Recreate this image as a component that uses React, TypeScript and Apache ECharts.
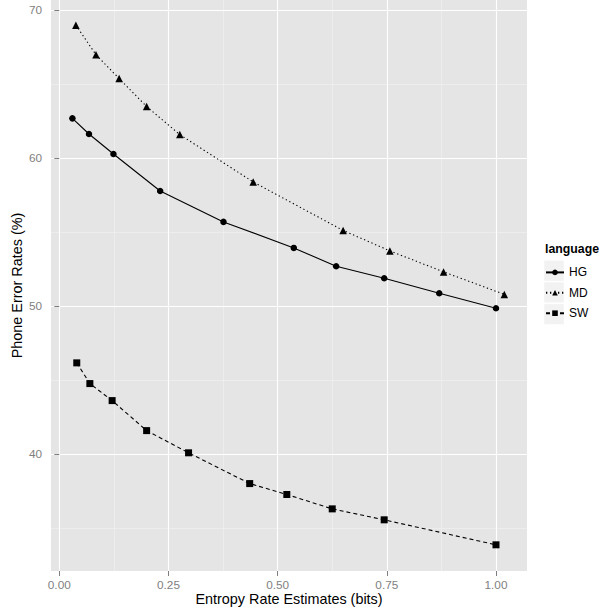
import React, { useEffect, useRef } from "react";
import * as echarts from "echarts";

const languages = ["HG", "MD", "SW"];
const xHG = [0.030, 0.068, 0.124, 0.231, 0.376, 0.537, 0.634, 0.744, 0.870, 1.000];
const yHG = [62.70, 61.64, 60.29, 57.79, 55.70, 53.94, 52.70, 51.89, 50.88, 49.86];
const xMD = [0.038, 0.084, 0.137, 0.200, 0.276, 0.444, 0.650, 0.757, 0.880, 1.019];
const yMD = [69.00, 67.00, 65.39, 63.50, 61.60, 58.40, 55.12, 53.74, 52.32, 50.80];
const xSW = [0.040, 0.070, 0.121, 0.200, 0.296, 0.436, 0.521, 0.625, 0.744, 1.000];
const ySW = [46.17, 44.77, 43.62, 41.59, 40.09, 38.01, 37.27, 36.30, 35.56, 33.87];
const xTicks = [0, 0.25, 0.5, 0.75, 1.0];
const xMinor = [0.125, 0.375, 0.625, 0.875];
const yTicks = [40, 50, 60, 70];
const yMinor = [35, 45, 55, 65];

const FONT = "Liberation Sans, Arial, Helvetica, sans-serif";

export default function App() {
  const ref = useRef<HTMLDivElement>(null);
  useEffect(() => {
    if (!ref.current) return;
    const chart = echarts.init(ref.current, null, { renderer: "svg" });
    const pairs = (xs: number[], ys: number[]) => xs.map((x, i) => [x, ys[i]]);
    const gridPos = { left: 51, top: 0, right: 86, bottom: 42 };
    const xMin = -0.019, xMax = 1.071, yMin = 32.1, yMax = 70.7;
    const tickColor = "#7F7F7F";
    const rowY = [270.7, 292.4, 314.1];
    chart.setOption({
      animation: false,
      textStyle: { fontFamily: FONT },
      grid: [
        { ...gridPos, show: true, backgroundColor: "#E5E5E5", borderWidth: 0 },
      ],
      xAxis: [
        {
          type: "value", gridIndex: 0, min: xMin, max: xMax,
          axisLine: { show: false },
          axisTick: { show: true, length: 5, customValues: xTicks, lineStyle: { color: tickColor, width: 1 } },
          axisLabel: {
            customValues: xTicks, color: tickColor, fontSize: 11.8, margin: 8, fontFamily: FONT,
            formatter: (v: number) => v.toFixed(2),
          },
          splitLine: { show: true, lineStyle: { color: "#FFFFFF", width: 1.1 } },
          z: 1,
        },
        {
          type: "value", gridIndex: 0, min: xMin, max: xMax,
          axisLine: { show: false },
          axisTick: { show: false, customValues: xMinor },
          axisLabel: { show: false, customValues: xMinor },
          splitLine: { show: true, lineStyle: { color: "#F2F2F2", width: 0.6 } },
          z: 0,
        },
      ],
      yAxis: [
        {
          type: "value", gridIndex: 0, min: yMin, max: yMax,
          axisLine: { show: false },
          axisTick: { show: true, length: 5, customValues: yTicks, lineStyle: { color: tickColor, width: 1 } },
          axisLabel: { customValues: yTicks, color: tickColor, fontSize: 11.8, margin: 9, fontFamily: FONT },
          splitLine: { show: true, lineStyle: { color: "#FFFFFF", width: 1.1 } },
          z: 1,
        },
        {
          type: "value", gridIndex: 0, min: yMin, max: yMax,
          axisLine: { show: false },
          axisTick: { show: false, customValues: yMinor },
          axisLabel: { show: false, customValues: yMinor },
          splitLine: { show: true, lineStyle: { color: "#F2F2F2", width: 0.6 } },
          z: 0,
        },
      ],
      legend: {
        orient: "vertical", left: 545, top: rowY[0] - 4.3, padding: 0, itemWidth: 18, itemHeight: 7,
        itemGap: 8.4, data: languages, selectedMode: false, z: 5,
        textStyle: { color: "#000000", fontSize: 12, fontFamily: FONT },
      },
      graphic: [
        ...rowY.map((cy) => ({
          type: "rect", z: 1, silent: true,
          shape: { x: 544, y: cy - 10.3, width: 20, height: 20.6 },
          style: { fill: "#F2F2F2", stroke: "#FFFFFF", lineWidth: 0.5 },
        })),
        {
          type: "text", x: 545, y: 249, z: 5,
          style: { text: "language", font: `bold 12.3px ${FONT}`, fill: "#000000", textVerticalAlign: "middle", textAlign: "left" },
        },
        {
          type: "text", x: 289, y: 599, z: 5,
          style: { text: "Entropy Rate Estimates (bits)", font: `14.4px ${FONT}`, fill: "#000000", textAlign: "center", textVerticalAlign: "middle" },
        },
        {
          type: "text", x: 17, y: 285.5, rotation: Math.PI / 2, z: 5,
          style: { text: "Phone Error Rates (%)", font: `14.4px ${FONT}`, fill: "#000000", textAlign: "center", textVerticalAlign: "middle" },
        },
      ],
      series: [
        {
          name: "HG", type: "line", data: pairs(xHG, yHG), symbol: "circle", symbolSize: 6.5,
          lineStyle: { color: "#000000", width: 1.1, type: "solid" },
          itemStyle: { color: "#000000" }, z: 3,
        },
        {
          name: "MD", type: "line", data: pairs(xMD, yMD), symbol: "triangle", symbolSize: 7.5,
          lineStyle: { color: "#000000", width: 1.1, type: [1.3, 2.7] },
          itemStyle: { color: "#000000" }, z: 3,
        },
        {
          name: "SW", type: "line", data: pairs(xSW, ySW), symbol: "rect", symbolSize: 7,
          lineStyle: { color: "#000000", width: 1.1, type: [4, 3] },
          itemStyle: { color: "#000000" }, z: 3,
        },
      ],
    });
    return () => chart.dispose();
  }, []);
  return <div ref={ref} style={{ width: 613, height: 613, position: "absolute", left: 0, top: 0 }} />;
}
